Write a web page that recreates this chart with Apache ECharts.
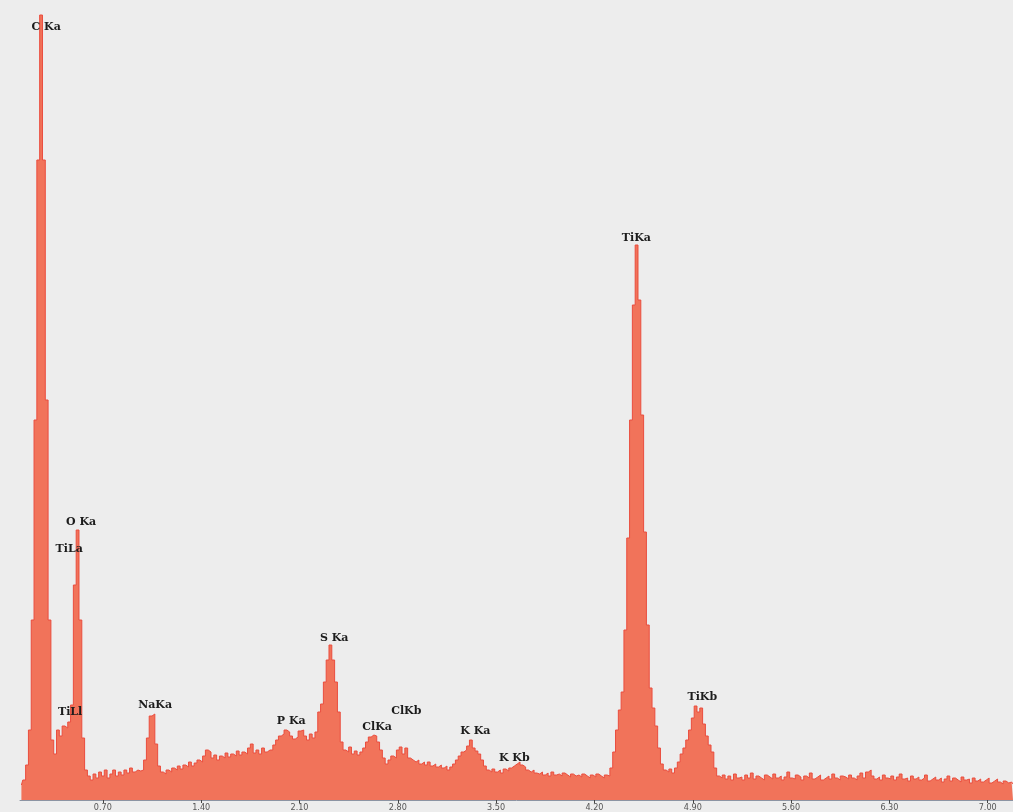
<!DOCTYPE html>
<html>
<head>
<meta charset="utf-8">
<title>EDS spectrum</title>
<script src="https://cdn.jsdelivr.net/npm/echarts@6/dist/echarts.min.js"></script>
<style>
  html, body { margin: 0; padding: 0; background: #ededed; }
  #chart { width: 1013px; height: 812px; }
</style>
</head>
<body>
<div id="chart"></div>
<script>
// Spectrum channels: first channel energy and channel width (keV)
const startEnergy = 0.12;
const channelWidth = 0.02;

// Counts per channel, 0.12 keV .. 7.18 keV
const counts = [
  15, 20, 35, 70, 180, 380, 640, 785, 640, 400,
  180, 60, 46, 70, 64, 74, 72, 78, 95, 215,
  270, 180, 62, 30, 24, 20, 26, 22, 28, 24,
  30, 22, 26, 30, 24, 28, 25, 30, 27, 32,
  28, 30, 29, 30, 40, 62, 84, 86, 56, 34,
  28, 26, 30, 28, 32, 30, 34, 31, 35, 33,
  38, 34, 37, 40, 38, 44, 50, 48, 42, 45,
  40, 44, 42, 47, 43, 46, 44, 49, 45, 48,
  46, 52, 56, 47, 50, 46, 52, 48, 50, 50,
  55, 60, 64, 66, 70, 68, 64, 61, 63, 69,
  70, 64, 60, 66, 62, 68, 88, 96, 118, 140,
  155, 140, 118, 88, 58, 50, 48, 53, 46, 49,
  45, 48, 52, 58, 63, 65, 64, 58, 50, 42,
  36, 40, 44, 42, 50, 53, 46, 52, 42, 40,
  38, 40, 36, 38, 35, 38, 34, 36, 33, 35,
  32, 34, 30, 33, 36, 40, 44, 48, 50, 54,
  60, 52, 49, 46, 40, 34, 30, 28, 31, 28,
  30, 27, 31, 29, 32, 34, 36, 38, 35, 33,
  30, 28, 30, 27, 26, 28, 25, 27, 24, 28,
  25, 26, 24, 27, 25, 23, 26, 24, 25, 23,
  26, 24, 22, 25, 23, 26, 24, 22, 25, 24,
  32, 48, 70, 90, 108, 170, 262, 380, 495, 555,
  500, 385, 268, 175, 112, 92, 74, 52, 36, 30,
  28, 31, 27, 32, 38, 46, 52, 60, 70, 82,
  94, 88, 92, 76, 64, 55, 48, 32, 24, 22,
  25, 21, 24, 20, 26, 22, 23, 20, 25, 22,
  27, 21, 24, 22, 20, 25, 23, 21, 26, 22,
  24, 20, 23, 28, 22, 21, 25, 23, 20, 24,
  22, 27, 21, 23, 25, 20, 22, 24, 21, 26,
  22, 20, 24, 23, 21, 25, 22, 20, 24, 27,
  22, 28, 30, 24, 21, 23, 20, 25, 22, 21,
  24, 20, 23, 26, 21, 22, 19, 24, 21, 23,
  20, 22, 25, 19, 21, 23, 20, 22, 18, 21,
  24, 19, 22, 20, 18, 23, 20, 21, 17, 22,
  19, 21, 18, 20, 22, 17, 19, 21, 18, 16,
  19, 17, 18, 16
];

// Energy axis tick labels (keV)
const tickValues = [0.70, 1.40, 2.10, 2.80, 3.50, 4.20, 4.90, 5.60, 6.30, 7.00];

// Line identifications: label text, energy (keV) and height of the label
const peakNames   = ['C Ka', 'TiLa', 'O Ka', 'TiLl', 'NaKa', 'P Ka', 'S Ka', 'ClKa', 'ClKb', 'K Ka', 'K Kb', 'TiKa', 'TiKb'];
const peakEnergy  = [0.296, 0.460, 0.545, 0.467, 1.072, 2.041, 2.347, 2.653, 2.860, 3.352, 3.629, 4.498, 4.968];
const peakLabelAt = [773, 251, 278, 88, 95, 79, 162, 73, 89, 69, 42, 562, 103];

const spectrum = counts.map((c, i) => [+(startEnergy + i * channelWidth).toFixed(2), c]);
const labels = peakNames.map((n, i) => ({ name: n, value: [peakEnergy[i], peakLabelAt[i]] }));

const chart = echarts.init(document.getElementById('chart'));
chart.setOption({
  animation: false,
  backgroundColor: '#ededed',
  grid: { left: 20, right: 0, top: 0, bottom: 12 },
  xAxis: {
    type: 'value',
    min: 0.11,
    max: 7.18,
    splitLine: { show: false },
    axisLine: { show: true, lineStyle: { color: '#8c94a3', width: 1 } },
    axisTick: { show: true, customValues: tickValues, length: 3, lineStyle: { color: '#444' } },
    axisLabel: {
      customValues: tickValues,
      formatter: v => v.toFixed(2),
      fontSize: 9,
      color: '#555',
      margin: 3,
      fontFamily: 'Liberation Sans Narrow, DejaVu Sans Condensed, sans-serif'
    }
  },
  yAxis: {
    type: 'value',
    min: 0,
    max: 800,
    show: false,
    splitLine: { show: false }
  },
  series: [
    {
      type: 'line',
      data: spectrum,
      step: 'middle',
      showSymbol: false,
      lineStyle: { color: '#ea4d3e', width: 1 },
      areaStyle: { color: '#f1735a', opacity: 1 },
      z: 2
    },
    {
      type: 'scatter',
      data: labels,
      symbolSize: 0.1,
      itemStyle: { color: 'rgba(0,0,0,0)' },
      label: {
        show: true,
        position: 'inside',
        formatter: '{b}',
        color: '#1c1c1c',
        opacity: 1,
        fontSize: 11,
        fontWeight: 'bold',
        fontFamily: 'DejaVu Serif, Liberation Serif, serif'
      },
      z: 5
    }
  ]
});
</script>
</body>
</html>
